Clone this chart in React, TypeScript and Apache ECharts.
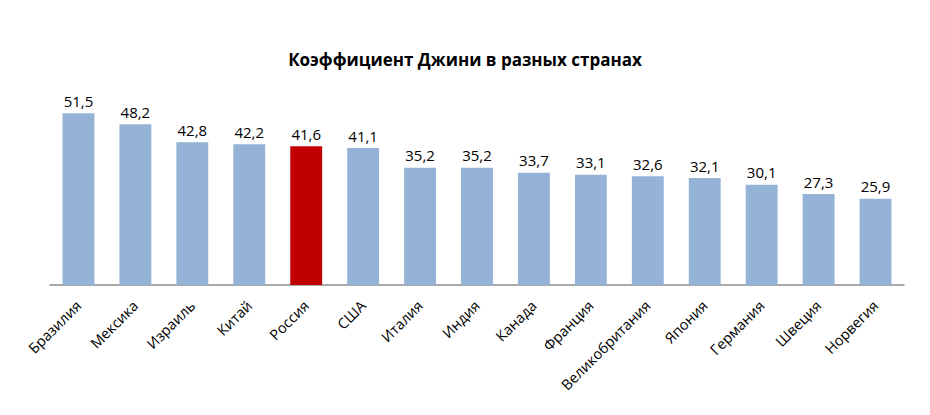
import React, { useEffect, useRef } from "react";
import * as echarts from "echarts";

const countries = ["Бразилия", "Мексика", "Израиль", "Китай", "Россия", "США", "Италия", "Индия", "Канада", "Франция", "Великобритания", "Япония", "Германия", "Швеция", "Норвегия"];
const gini = [51.5, 48.2, 42.8, 42.2, 41.6, 41.1, 35.2, 35.2, 33.7, 33.1, 32.6, 32.1, 30.1, 27.3, 25.9];
const highlight = "Россия";

const FONT = "'Open Sans', 'Noto Sans', sans-serif";

export default function App() {
  const ref = useRef<HTMLDivElement>(null);
  useEffect(() => {
    if (!ref.current) return;
    const chart = echarts.init(ref.current, null, { renderer: "svg" });
    chart.setOption({
      animation: false,
      title: {
        text: "Коэффициент Джини в разных странах",
        left: "center",
        top: 38,
        textStyle: { fontFamily: FONT, fontWeight: "bold", fontSize: 17, color: "#000" },
      },
      grid: { left: 42, right: 18, top: 77, bottom: 122 },
      xAxis: {
        type: "category",
        data: countries,
        axisLine: { lineStyle: { color: "#8c8c8c", width: 1.5 } },
        axisTick: { show: false },
        axisLabel: {
          rotate: 45,
          interval: 0,
          margin: 18,
          fontFamily: FONT,
          fontSize: 14.5,
          color: "#000",
        },
      },
      yAxis: {
        type: "value",
        min: 0,
        max: 60,
        show: false,
        splitLine: { show: false },
      },
      series: [
        {
          type: "bar",
          barCategoryGap: "44%",
          data: gini.map((v, i) => ({
            value: v,
            itemStyle: { color: countries[i] === highlight ? "#c00000" : "#95b3d7" },
          })),
          label: {
            show: true,
            position: "top",
            distance: 5,
            fontFamily: FONT,
            fontSize: 15,
            color: "#000",
            formatter: (p: any) => String(p.value).replace(".", ","),
          },
        },
      ],
    });
    return () => chart.dispose();
  }, []);
  return <div ref={ref} style={{ width: 914, height: 399 }} />;
}
